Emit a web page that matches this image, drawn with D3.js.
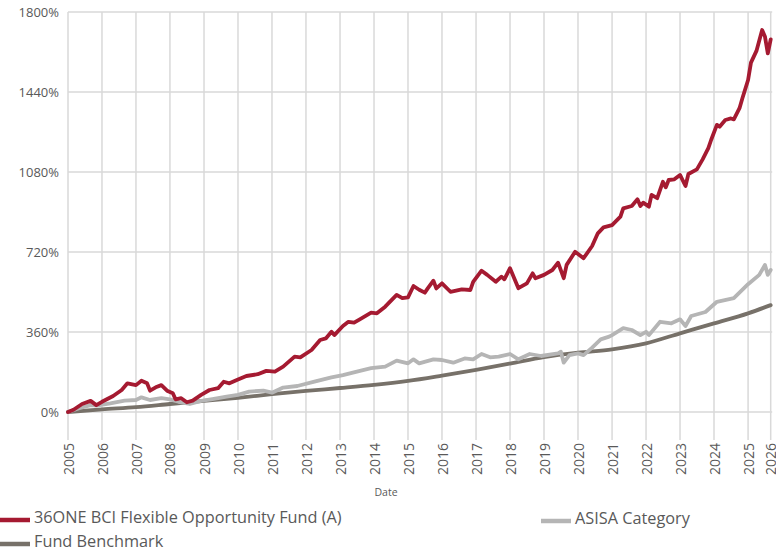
<!DOCTYPE html>
<html>
<head>
<meta charset="utf-8">
<script src="https://cdn.jsdelivr.net/npm/d3@7"></script>
<style>
  html, body { margin: 0; padding: 0; background: #ffffff; }
  svg { display: block; font-family: "Open Sans", "DejaVu Sans", sans-serif; }
</style>
</head>
<body>
<svg id="chart" width="776" height="552"></svg>
<script>
// Cumulative returns (%), month-end readings
const fundSeries = [
  ["2005-01", 0], ["2005-03", 10], ["2005-06", 36], ["2005-09", 50], ["2005-11", 31],
  ["2006-01", 46], ["2006-05", 72], ["2006-08", 99], ["2006-10", 129], ["2007-01", 121],
  ["2007-03", 141], ["2007-05", 129], ["2007-06", 96], ["2007-08", 111], ["2007-10", 121],
  ["2007-12", 96], ["2008-02", 84], ["2008-03", 57], ["2008-05", 62], ["2008-07", 44],
  ["2008-09", 51], ["2008-12", 77], ["2009-03", 99], ["2009-06", 107], ["2009-08", 136],
  ["2009-10", 129], ["2010-01", 146], ["2010-04", 162], ["2010-08", 170], ["2010-11", 185],
  ["2011-02", 182], ["2011-05", 204], ["2011-09", 249], ["2011-11", 246], ["2012-03", 279],
  ["2012-06", 324], ["2012-08", 331], ["2012-10", 361], ["2012-11", 346], ["2013-02", 387],
  ["2013-04", 406], ["2013-06", 402], ["2013-08", 417], ["2013-12", 447], ["2014-02", 444],
  ["2014-05", 474], ["2014-09", 527], ["2014-11", 512], ["2015-01", 516], ["2015-03", 567],
  ["2015-05", 550], ["2015-07", 537], ["2015-08", 556], ["2015-10", 591], ["2015-11", 556],
  ["2016-01", 579], ["2016-04", 541], ["2016-08", 552], ["2016-11", 549], ["2016-12", 586],
  ["2017-03", 636], ["2017-05", 617], ["2017-08", 586], ["2017-10", 609], ["2017-11", 597],
  ["2018-01", 647], ["2018-04", 557], ["2018-07", 579], ["2018-09", 624], ["2018-10", 602],
  ["2019-01", 617], ["2019-04", 639], ["2019-06", 672], ["2019-08", 602], ["2019-09", 662],
  ["2019-12", 721], ["2020-03", 692], ["2020-06", 747], ["2020-08", 804], ["2020-10", 831],
  ["2021-01", 841], ["2021-04", 879], ["2021-05", 916], ["2021-08", 927], ["2021-10", 957],
  ["2021-11", 927], ["2021-12", 942], ["2022-02", 924], ["2022-03", 977], ["2022-05", 962],
  ["2022-07", 1036], ["2022-08", 1011], ["2022-09", 1044], ["2022-11", 1047], ["2023-01", 1067],
  ["2023-03", 1017], ["2023-04", 1071], ["2023-07", 1092], ["2023-09", 1137], ["2023-11", 1187],
  ["2023-12", 1224], ["2024-02", 1292], ["2024-03", 1284], ["2024-05", 1314], ["2024-07", 1321],
  ["2024-08", 1317], ["2024-10", 1367], ["2024-11", 1412], ["2025-01", 1494], ["2025-02", 1572],
  ["2025-04", 1625], ["2025-06", 1719], ["2025-07", 1690], ["2025-08", 1614], ["2025-09", 1677]
];

const categorySeries = [
  ["2005-01", 0], ["2005-05", 17], ["2005-09", 31], ["2005-11", 29], ["2006-04", 39],
  ["2006-09", 51], ["2007-01", 54], ["2007-03", 66], ["2007-06", 54], ["2007-10", 62],
  ["2008-01", 57], ["2008-04", 46], ["2008-08", 36], ["2008-12", 50], ["2009-04", 58],
  ["2009-09", 69], ["2010-01", 77], ["2010-05", 92], ["2010-10", 96], ["2011-01", 87],
  ["2011-05", 110], ["2011-10", 117], ["2012-04", 137], ["2012-10", 156], ["2013-02", 166],
  ["2013-07", 182], ["2013-12", 197], ["2014-05", 204], ["2014-09", 231], ["2015-01", 219],
  ["2015-03", 237], ["2015-05", 219], ["2015-10", 237], ["2016-01", 234], ["2016-05", 222],
  ["2016-09", 241], ["2016-12", 237], ["2017-03", 261], ["2017-06", 246], ["2017-09", 249],
  ["2018-01", 261], ["2018-04", 237], ["2018-08", 261], ["2018-12", 252], ["2019-06", 264],
  ["2019-07", 271], ["2019-08", 222], ["2019-10", 256], ["2020-01", 264], ["2020-03", 256],
  ["2020-06", 290], ["2020-09", 327], ["2020-12", 339], ["2021-01", 346], ["2021-05", 377],
  ["2021-08", 369], ["2021-11", 346], ["2022-01", 361], ["2022-02", 346], ["2022-06", 406],
  ["2022-10", 399], ["2023-01", 417], ["2023-03", 387], ["2023-05", 432], ["2023-10", 450],
  ["2024-02", 496], ["2024-08", 512], ["2025-01", 575], ["2025-05", 617], ["2025-07", 662],
  ["2025-08", 617], ["2025-09", 639]
];

const benchmarkSeries = [
  ["2005-01", 0], ["2006-01", 12], ["2007-01", 22], ["2008-01", 36], ["2009-01", 50],
  ["2010-01", 64], ["2011-01", 80], ["2012-01", 95], ["2013-01", 108], ["2014-01", 122],
  ["2015-01", 140], ["2016-01", 164], ["2017-01", 190], ["2018-01", 218], ["2019-01", 247],
  ["2020-01", 267], ["2021-01", 282], ["2022-01", 309], ["2023-01", 354], ["2024-01", 399],
  ["2025-01", 444], ["2025-09", 481]
];

const yTickValues = [0, 360, 720, 1080, 1440, 1800];
const xTickLabels = ["2005", "2006", "2007", "2008", "2009", "2010", "2011", "2012", "2013",
  "2014", "2015", "2016", "2017", "2018", "2019", "2020", "2021", "2022", "2023", "2024",
  "2025", "2026"];

const seriesInfo = [
  { name: "36ONE BCI Flexible Opportunity Fund (A)", data: fundSeries, color: "#a51a31" },
  { name: "ASISA Category", data: categorySeries, color: "#b5b5b5" },
  { name: "Fund Benchmark", data: benchmarkSeries, color: "#777169" }
];

const parseMonth = d3.timeParse("%Y-%m");
const svg = d3.select("#chart");

const plot = { left: 68, right: 770.7, top: 12, zero: 412, gridBottom: 440 };

const startDate = parseMonth(fundSeries[0][0]);
const endDate = parseMonth(fundSeries[fundSeries.length - 1][0]);

const x = d3.scaleTime().domain([startDate, endDate]).range([plot.left, plot.right]);
const y = d3.scaleLinear().domain([0, 1800]).range([plot.zero, plot.top]);

// Year ticks; the closing tick sits on the axis end and carries the last label
const xTickDates = xTickLabels.slice(0, -1).map(l => new Date(+l, 0, 1)).concat([endDate]);
const labelFor = new Map(xTickDates.map((d, i) => [+d, xTickLabels[i]]));

const gridColor = "#d9d9d9";
const textColor = "#595959";

// Vertical gridlines
svg.append("g")
  .selectAll("line")
  .data(xTickDates)
  .join("line")
  .attr("x1", d => x(d)).attr("x2", d => x(d))
  .attr("y1", plot.top).attr("y2", plot.gridBottom)
  .attr("stroke", gridColor).attr("stroke-width", 1.5);

// Horizontal gridlines
svg.append("g")
  .selectAll("line")
  .data(yTickValues)
  .join("line")
  .attr("x1", plot.left).attr("x2", plot.right + 1.5)
  .attr("y1", d => y(d)).attr("y2", d => y(d))
  .attr("stroke", gridColor).attr("stroke-width", 1.5);

// Y axis labels
const yAxis = d3.axisLeft(y).tickValues(yTickValues).tickSize(0).tickPadding(9)
  .tickFormat(d => d + "%");
const yg = svg.append("g").attr("transform", `translate(${plot.left},0)`).call(yAxis);
yg.select(".domain").remove();
yg.selectAll("text").attr("fill", textColor).style("font-size", "13px")
  .style("font-family", "'Open Sans', sans-serif");

// X axis labels, rotated
const xAxis = d3.axisBottom(x).tickValues(xTickDates).tickSize(0)
  .tickFormat(d => labelFor.get(+d));
const xg = svg.append("g").attr("transform", `translate(0,${plot.gridBottom})`).call(xAxis);
xg.select(".domain").remove();
xg.selectAll("text")
  .attr("fill", textColor)
  .style("font-size", "14px")
  .style("font-family", "'Open Sans', sans-serif")
  .attr("text-anchor", "end")
  .attr("transform", "translate(0,3) rotate(-90)")
  .attr("x", 0).attr("y", 0).attr("dy", "0.36em");

// Axis title
svg.append("text")
  .attr("x", 386).attr("y", 496)
  .attr("text-anchor", "middle")
  .attr("fill", textColor)
  .style("font-size", "10.5px")
  .text("Date");

// Series lines
const lineGen = d3.line()
  .x(d => x(parseMonth(d[0])))
  .y(d => y(d[1]));

// Draw benchmark first, then category, then fund on top
[2, 1, 0].forEach(i => {
  const s = seriesInfo[i];
  const gen = i === 2 ? lineGen.curve(d3.curveMonotoneX) : lineGen.curve(d3.curveLinear);
  svg.append("path")
    .datum(s.data)
    .attr("d", gen)
    .attr("fill", "none")
    .attr("stroke", s.color)
    .attr("stroke-width", 3.8)
    .attr("stroke-linejoin", "round")
    .attr("stroke-linecap", "round");
});

// Legend
const legendItems = [
  { s: seriesInfo[0], x: 0, y: 520 },
  { s: seriesInfo[1], x: 541, y: 521 },
  { s: seriesInfo[2], x: 0, y: 544 }
];
const lg = svg.append("g");
legendItems.forEach(item => {
  lg.append("line")
    .attr("x1", item.x).attr("x2", item.x + 30)
    .attr("y1", item.y).attr("y2", item.y)
    .attr("stroke", item.s.color).attr("stroke-width", 4.5);
  lg.append("text")
    .attr("x", item.x + 34).attr("y", item.y + 2.5)
    .attr("fill", textColor)
    .style("font-size", "16.3px")
    .text(item.s.name);
});
</script>
</body>
</html>
